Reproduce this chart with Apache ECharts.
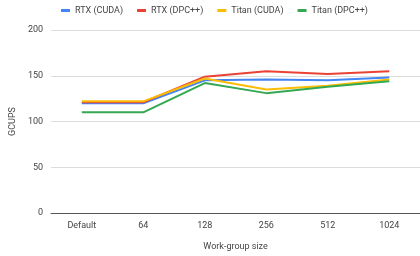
<!DOCTYPE html>
<html>
<head>
<meta charset="utf-8">
<script src="https://cdn.jsdelivr.net/npm/echarts@6/dist/echarts.min.js"></script>
<style>
  html, body { margin: 0; padding: 0; background: #fff; }
  #chart { width: 420px; height: 256px; }
</style>
</head>
<body>
<div id="chart"></div>
<script>
// 数据
const categories = ["Default", "64", "128", "256", "512", "1024"];
const rtxCuda = [120, 120, 145, 146, 145, 148];
const rtxDpc = [121, 121, 149, 155, 152, 155];
const titanCuda = [122, 122, 147, 135, 139, 146];
const titanDpc = [110, 110, 142, 131, 138, 144];

const chart = echarts.init(document.getElementById("chart"));

const lineSeries = (name, data, color) => ({
  name: name,
  type: "line",
  data: data,
  symbol: "none",
  lineStyle: { width: 2, color: color },
  itemStyle: { color: color },
});

chart.setOption({
  animation: false,
  textStyle: { fontFamily: "Roboto, Arial, sans-serif" },
  legend: {
    top: 1,
    left: 56,
    itemWidth: 9,
    itemHeight: 3,
    itemGap: 14,
    icon: "rect",
    textStyle: { fontSize: 9, color: "#444" },
  },
  grid: { left: 51, right: 0, top: 30, bottom: 43 },
  xAxis: {
    type: "category",
    data: categories,
    name: "Work-group size",
    nameLocation: "middle",
    nameGap: 29,
    nameTextStyle: { fontSize: 9, color: "#444" },
    axisTick: { show: false },
    axisLine: { lineStyle: { color: "#555", width: 1 } },
    axisLabel: { fontSize: 9, color: "#444", margin: 8 },
  },
  yAxis: {
    type: "value",
    min: 0,
    max: 200,
    interval: 50,
    name: "GCUPS",
    nameLocation: "middle",
    nameGap: 31,
    nameTextStyle: { fontSize: 9, color: "#444" },
    axisLabel: { fontSize: 9, color: "#444", margin: 8 },
    splitLine: { lineStyle: { color: "#dcdcdc" } },
  },
  series: [
    lineSeries("RTX (CUDA)", rtxCuda, "#4285F4"),
    lineSeries("RTX (DPC++)", rtxDpc, "#EA4335"),
    lineSeries("Titan (CUDA)", titanCuda, "#FBBC04"),
    lineSeries("Titan (DPC++)", titanDpc, "#34A853"),
  ],
});
</script>
</body>
</html>
